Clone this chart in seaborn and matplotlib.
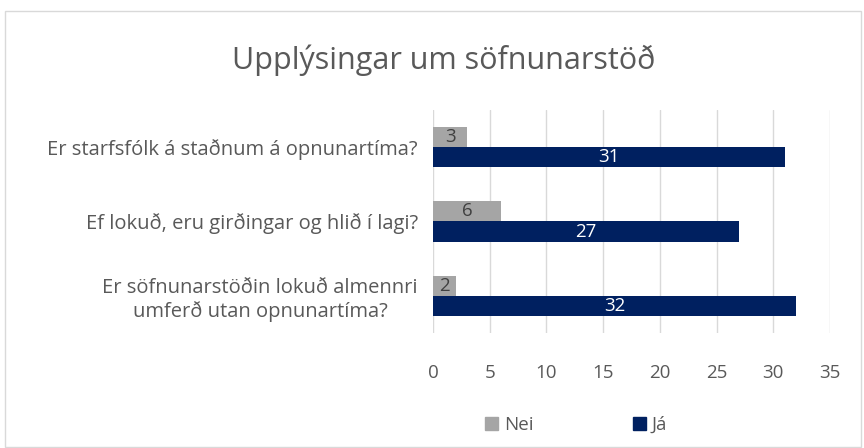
import matplotlib
matplotlib.use("Agg")
import matplotlib.pyplot as plt
import matplotlib.patches as mpatches
import seaborn as sns
import pandas as pd

questions = ["Er starfsfólk á staðnum á opnunartíma?",
             "Ef lokuð, eru girðingar og hlið í lagi?",
             "Er söfnunarstöðin lokuð almennri\numferð utan opnunartíma?"]
nei = [3, 6, 2]
ja = [31, 27, 32]
series = ["Nei", "Já"]
colors = {"Nei": "#A5A5A5", "Já": "#002060"}

df = pd.DataFrame({
    "question": questions * 2,
    "svar": ["Nei"] * 3 + ["Já"] * 3,
    "count": nei + ja,
})

sns.set_theme(style="white")
plt.rcParams["font.family"] = ["Open Sans", "DejaVu Sans"]
txt = "#595959"

fig = plt.figure(figsize=(8.64, 4.48), dpi=100)
fig.patches.append(mpatches.Rectangle((5 / 864, 0.002), 856 / 864, 1 - 11 / 448 - 0.002,
                                      transform=fig.transFigure, fill=False,
                                      edgecolor="#D9D9D9", lw=1))
ax = fig.add_axes([433 / 864, 115 / 448, 397 / 864, 223 / 448])

sns.barplot(data=df, y="question", x="count", hue="svar", hue_order=series,
            order=questions, palette=colors, width=0.54, ax=ax, legend=False,
            saturation=1, edgecolor="none")

ax.set_xlim(0, 35)
ax.set_xticks(range(0, 36, 5))
ax.grid(axis="x", color="#D9D9D9", lw=1)
ax.set_axisbelow(True)
for s in ax.spines.values():
    s.set_visible(False)
ax.set_xlabel("")
ax.set_ylabel("")
ax.tick_params(axis="x", length=0, pad=22, labelsize=13.5, labelcolor=txt)
ax.tick_params(axis="y", length=0, pad=11, labelsize=14.5, labelcolor=txt)
for lab in ax.get_yticklabels():
    lab.set_multialignment("center")

for cont, s in zip(ax.containers, series):
    ax.bar_label(cont, label_type="center", fontsize=13.5,
                 color="#404040" if s == "Nei" else "white")

fig.text(0.513, 1 - 60 / 448, "Upplýsingar um söfnunarstöð", ha="center", va="center",
         fontsize=22, color=txt)

handles = [mpatches.Patch(color=colors[s], label=s) for s in series]
fig.legend(handles=handles, loc="center", bbox_to_anchor=(576 / 864, 1 - 425 / 448),
           ncol=2, frameon=False, fontsize=13.5, labelcolor=txt, columnspacing=5.3,
           handlelength=0.7, handleheight=0.7, handletextpad=0.3)

fig.savefig("out.png", dpi=100)
